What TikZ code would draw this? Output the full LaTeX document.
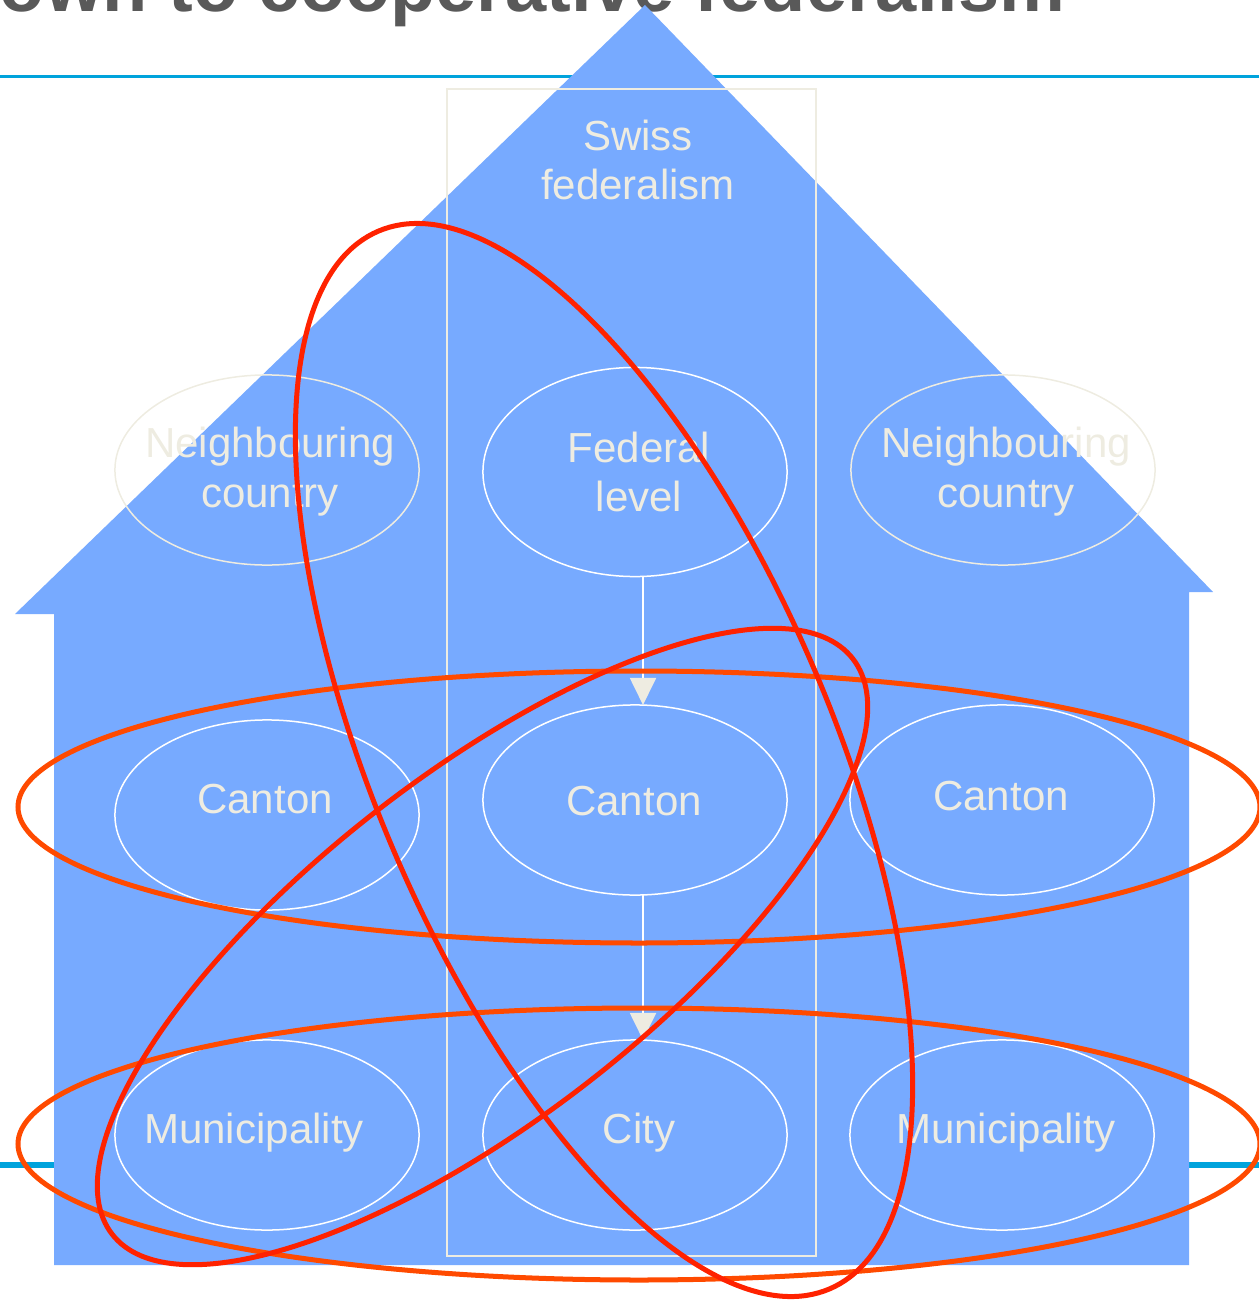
\documentclass[tikz,border=0pt]{standalone}
\usepackage{fontspec}
\setmainfont{Liberation Sans}
\usetikzlibrary{shapes.geometric,arrows.meta}
\definecolor{housebl}{HTML}{77AAFF}
\definecolor{linebl}{HTML}{00A3DC}
\definecolor{bgtwo}{HTML}{EEECE1}
\definecolor{titlegr}{HTML}{595959}
\definecolor{redA}{HTML}{FF2200}
\definecolor{redB}{HTML}{FF4A00}
\begin{document}
\begin{tikzpicture}[x=0.01cm,y=-0.01cm,
  oval/.style={ellipse, draw=white, line width=0.015cm, minimum width=3.04cm, minimum height=1.9cm, inner sep=0pt, outer sep=0pt},
  ovalfaint/.style={oval, draw=bgtwo},
  lbl/.style={text=bgtwo, font=\fontsize{11.95}{14.2}\selectfont, align=center, inner sep=0pt},
  flow/.style={draw=white, line width=0.02cm, -{Triangle[width=0.26cm,length=0.27cm,color=bgtwo,fill=bgtwo]}},
  ring/.style={line width=0.05cm}
]
\useasboundingbox (0,0) rectangle (1259,1300);
\clip (0,0) rectangle (1259,1300);

% title (cut at top)
\node[anchor=base east, text=titlegr, font=\bfseries\fontsize{21.05}{25}\selectfont, inner sep=0pt] (title) at (1066,12) {own to cooperative federalism};

% blue rules
\draw[linebl, line width=0.03cm] (0,77) -- (1259,77);
\draw[linebl, line width=0.065cm] (0,1165) -- (1259,1165);

% house
\fill[housebl] (645,5) -- (1213,592) -- (1189,592) -- (1189,1265) -- (54,1265) -- (54,614) -- (15,614) -- cycle;

% frame
\draw[bgtwo, line width=0.015cm] (447,89) rectangle (816,1256);
\node[lbl, anchor=center] (swiss) at (638,160) {Swiss\\federalism};

% ellipses
\node[ovalfaint] (nl) at (267,470) {};
\node[oval, minimum height=2.09cm] (fed) at (635,472) {};
\node[ovalfaint] (nr) at (1003,470) {};
\node[oval] (cl) at (267,815) {};
\node[oval] (cm) at (635,800) {};
\node[oval] (cr) at (1002,800) {};
\node[oval] (ml) at (267,1135) {};
\node[oval] (city) at (635,1135) {};
\node[oval] (mr) at (1002,1135) {};

% texts
\node[lbl, anchor=center] (nlt) at (270,472) {Neighbouring\\country};
\node[lbl, anchor=center] (fedt) at (639,472) {Federal\\level};
\node[lbl, anchor=center] (nrt) at (1006,472) {Neighbouring\\country};
\node[lbl, anchor=base] (clt) at (265,813) {Canton};
\node[lbl, anchor=base] (cmt) at (634,815) {Canton};
\node[lbl, anchor=base] (crt) at (1001,810) {Canton};
\node[lbl, anchor=base] (mlt) at (254,1143) {Municipality};
\node[lbl, anchor=base] (cityt) at (639,1143) {City};
\node[lbl, anchor=base] (mrt) at (1006,1143) {Municipality};

% arrows
\draw[flow] ([xshift=0.08cm]fed.south) -- ([xshift=0.08cm]cm.north);
\draw[flow] ([xshift=0.08cm]cm.south) -- ([xshift=0.08cm]city.north);

% red rings
\draw[ring, redB] (639,807) ellipse [x radius=621, y radius=136];
\draw[ring, redB] (639,1144) ellipse [x radius=621, y radius=136];
\draw[ring, redA, shift={(604,760)}, rotate=-66.9] (0,0) ellipse [x radius=575, y radius=229];
\draw[ring, redA, shift={(482.5,946.5)}, rotate=37.84] (0,0) ellipse [x radius=469, y radius=172];
\end{tikzpicture}
\end{document}
